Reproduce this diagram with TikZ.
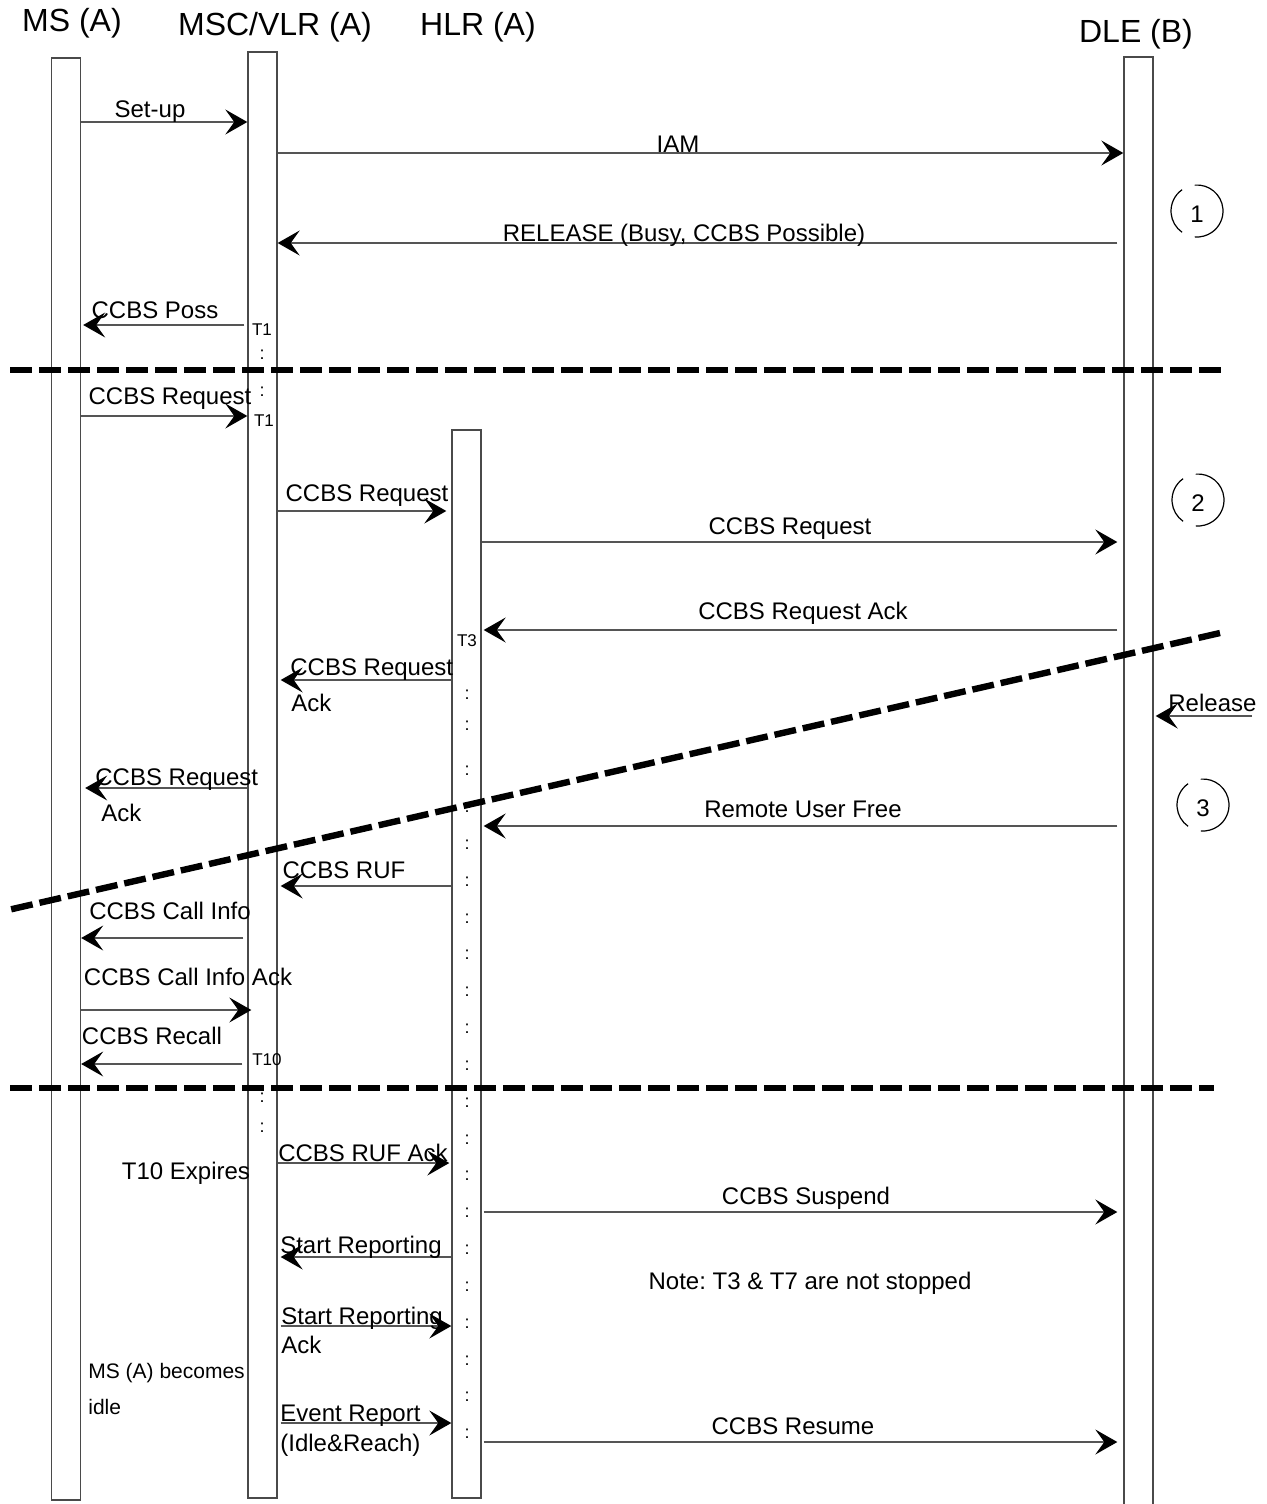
\documentclass[tikz,border=0pt]{standalone}
\usepackage{fontspec}
\setmainfont{Liberation Sans}
\usepackage{xcolor}
\usetikzlibrary{arrows.meta, calc}
\definecolor{linegray}{HTML}{555555}
\definecolor{boxgray}{HTML}{4A4A4A}
\frenchspacing

\tikzset{
  lifeline/.style={draw=boxgray, line width=0.7pt, inner sep=0pt, minimum width=14.5pt},
  msg/.style={draw=linegray, line width=0.55pt, -{Stealth[length=11pt, width=12.5pt, inset=4.5pt, black, line width=0.5pt]}},
  lbl/.style={font=\fontsize{12}{14}\selectfont, inner sep=0pt, anchor=base},
  lblw/.style={lbl, anchor=base west},
  head/.style={font=\fontsize{16}{18}\selectfont, inner sep=0pt, anchor=base},
  tmr/.style={font=\fontsize{8.5}{10}\selectfont, inner sep=0pt, anchor=base},
  dots/.style={font=\fontsize{9}{10}\selectfont, inner sep=0pt},
  cutline/.style={line width=3.2pt, dash pattern=on 11pt off 3.5pt},
  ring/.style={line width=0.6pt}
}

\begin{document}
\begin{tikzpicture}[x=0.5pt, y=-0.5pt]
  \useasboundingbox (0,0) rectangle (1266,1504);

  % entities
  \node[head] (msh)  at (72,32)    {MS (A)};
  \node[head] (msch) at (275,36)   {MSC/VLR (A)};
  \node[head] (hlrh) at (478,36)   {HLR (A)};
  \node[head] (dleh) at (1136,43)  {DLE (B)};

  \node[lifeline, minimum height=721pt]   (ms)  at (66,779)    {};
  \node[lifeline, minimum height=723pt]   (msc) at (262.5,775) {};
  \node[lifeline, minimum height=534pt]   (hlr) at (466.5,964) {};
  \node[lifeline, minimum height=726pt]   (dle) at (1138.5,783) {};

  % phase 1
  \draw[msg] (ms.east |- 0,122) -- (msc.west |- 0,122);
  \node[lbl] (setup) at (150,118) {Set-up};
  \draw[msg] (msc.east |- 0,153) -- (dle.west |- 0,153);
  \node[lbl] (iam) at (678,153) {IAM};
  \draw[msg] ($(dle.west |- 0,243)+(-6,0)$) -- (msc.east |- 0,243);
  \node[lbl] (rel) at (684,241) {RELEASE (Busy, CCBS Possible)};
  \draw[msg] ($(msc.west |- 0,325)+(-3,0)$) -- ($(ms.east |- 0,325)+(2,0)$);
  \node[lbl] (poss) at (155,318) {CCBS Poss};
  \node[tmr] (t1a) at (262,335) {T1};
  \node[dots] (mc1) at (262,355) {:};

  \draw[cutline] (10,370) -- (1222,370);

  % phase 2
  \draw[msg] (ms.east |- 0,416) -- (msc.west |- 0,416);
  \node[lbl] (req1) at (170,404) {CCBS Request};
  \node[dots] (mc2) at (262,392) {:};
  \node[tmr] (t1b) at (264,426) {T1};
  \draw[msg] (msc.east |- 0,511) -- ($(hlr.west |- 0,511)+(-5,0)$);
  \node[lbl] (req2) at (367,501) {CCBS Request};
  \draw[msg] (hlr.east |- 0,542) -- ($(dle.west |- 0,542)+(-6,0)$);
  \node[lbl] (req3) at (790,534) {CCBS Request};
  \draw[msg] ($(dle.west |- 0,630)+(-6,0)$) -- ($(hlr.east |- 0,630)+(2,0)$);
  \node[lbl] (ack3) at (803,619) {CCBS Request Ack};
  \node[tmr] (t3) at (467,646) {T3};
  \draw[msg] (hlr.west |- 0,680) -- ($(msc.east |- 0,680)+(3,0)$);
  \node[lblw] (ack2a) at (290,675) {CCBS Request};
  \node[lblw] (ack2b) at (291,711) {Ack};
  \draw[msg] (msc.west |- 0,788) -- ($(ms.east |- 0,788)+(4,0)$);
  \node[lblw] (ack1a) at (95,785) {CCBS Request};
  \node[lblw] (ack1b) at (101,821) {Ack};
  \node[dots] (dot0) at (467,695) {:};
  \node[dots] (dot1) at (467,726) {:};
  \foreach \y in {771,808,845,882,919,955,992,1029,1066,1103,1140,1176,1213,1250,1287,1324,1361,1397,1434}
    \node[dots] (hc\y) at (467,\y) {:};

  \coordinate (relsrc) at (1252,716);
  \draw[msg] (relsrc) -- ($(dle.east |- relsrc)+(2,0)$);
  \node[lblw] (release) at (1168,711) {Release};

  \draw[cutline] (1220,633) -- (8,910);

  % phase 3
  \draw[msg] ($(dle.west |- 0,826)+(-6,0)$) -- ($(hlr.east |- 0,826)+(2,0)$);
  \node[lbl] (ruf) at (803,817) {Remote User Free};
  \draw[msg] (hlr.west |- 0,886) -- ($(msc.east |- 0,886)+(3,0)$);
  \node[lbl] (ruf2) at (344,878) {CCBS RUF};
  \draw[msg] ($(msc.west |- 0,938)+(-4,0)$) -- (ms.east |- 0,938);
  \node[lbl] (info) at (170,919) {CCBS Call Info};
  \draw[msg] (ms.east |- 0,1010) -- ($(msc.west |- 0,1010)+(4,0)$);
  \node[lbl] (infoack) at (188,985) {CCBS Call Info Ack};
  \draw[msg] ($(msc.west |- 0,1064)+(-5,0)$) -- (ms.east |- 0,1064);
  \node[lbl] (recall) at (152,1044) {CCBS Recall};
  \node[tmr] (t10) at (267,1065) {T10};

  \draw[cutline] (10,1088) -- (1214,1088);

  % phase 4
  \node[dots] (mc3) at (262,1098) {:};
  \node[dots] (mc4) at (262,1128) {:};
  \node[lbl] (expire) at (186,1179) {T10 Expires};
  \draw[msg] (msc.east |- 0,1163) -- ($(hlr.west |- 0,1163)+(-2,0)$);
  \node[lbl] (rufack) at (363,1161) {CCBS RUF Ack};
  \draw[msg] ($(hlr.east |- 0,1212)+(2,0)$) -- ($(dle.west |- 0,1212)+(-6,0)$);
  \node[lbl] (susp) at (806,1204) {CCBS Suspend};
  \draw[msg] (hlr.west |- 0,1257) -- ($(msc.east |- 0,1257)+(3,0)$);
  \node[lbl] (startrep) at (361,1253) {Start Reporting};
  \node[lbl] (note) at (810,1289) {Note: T3 \& T7 are not stopped};
  \draw[msg] ($(msc.east |- 0,1326)+(3,0)$) -- (hlr.west |- 0,1326);
  \node[lblw] (srack1) at (281,1324) {Start Reporting};
  \node[lblw] (srack2) at (281,1353) {Ack};
  \node[lblw, font=\fontsize{10.5}{12}\selectfont] (idle1) at (88,1378) {MS (A) becomes};
  \node[lblw, font=\fontsize{10.5}{12}\selectfont] (idle2) at (88,1414) {idle};
  \draw[msg] ($(msc.east |- 0,1423)+(3,0)$) -- (hlr.west |- 0,1423);
  \node[lblw] (evrep1) at (280,1421) {Event Report};
  \node[lblw] (evrep2) at (280,1451) {(Idle\&Reach)};
  \draw[msg] ($(hlr.east |- 0,1442)+(2,0)$) -- ($(dle.west |- 0,1442)+(-6,0)$);
  \node[lbl] (resume) at (793,1434) {CCBS Resume};

  % phase markers
  \foreach \n/\cx/\cy in {1/1197/211, 2/1198/500, 3/1203/805} {
    \node[lbl, anchor=center] (ring\n) at (\cx,\cy+3) {\n};
    \draw[ring] (\cx,\cy) ++(95:13pt) arc[start angle=95, end angle=-95, radius=13pt];
    \draw[ring] (\cx,\cy) ++(125:13pt) arc[start angle=125, end angle=235, radius=13pt];
  }
\end{tikzpicture}
\end{document}
